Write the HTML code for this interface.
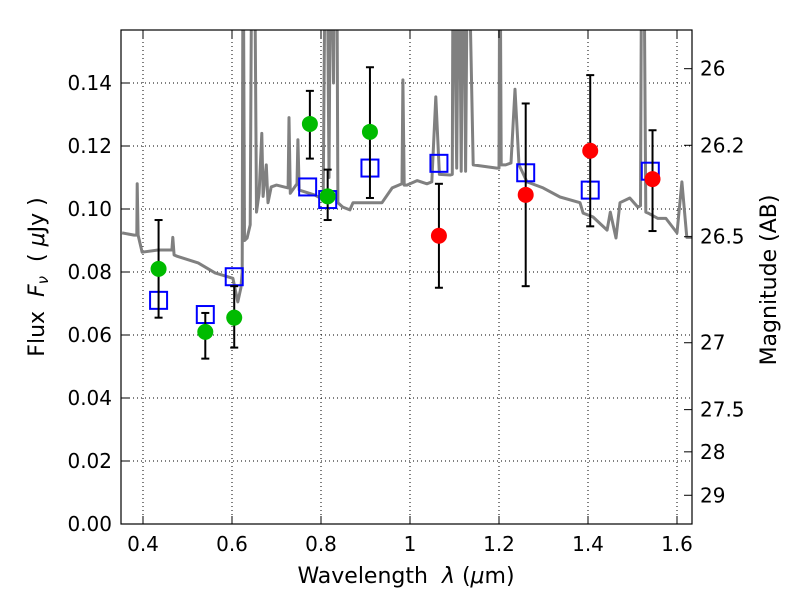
<!DOCTYPE html>
<html><head><meta charset="utf-8"><style>
body{margin:0;background:#fff;font-family:"Liberation Sans","DejaVu Sans",sans-serif}
svg text{font-family:"DejaVu Sans","Liberation Sans",sans-serif;font-size:20px;fill:#000}
svg text.title{font-size:22px}
</style></head><body>
<svg id="chart" width="800" height="600">
<defs><clipPath id="clip"><rect x="121" y="30" width="571" height="494"/></clipPath></defs>
<rect x="0" y="0" width="800" height="600" fill="#fff"/>
<g id="grid"></g>
<g id="spec" clip-path="url(#clip)"></g>
<g id="marks" clip-path="url(#clip)"></g>
<rect x="121" y="30" width="571" height="494" fill="none" stroke="#000" stroke-width="1.2"/>
<g id="axes"></g>
<text class="title" x="406" y="583" text-anchor="middle" xml:space="preserve">Wavelength  <tspan font-style="italic">λ</tspan> (<tspan font-style="italic">μ</tspan>m)</text>
<text class="title" transform="translate(44,277) rotate(-90)" text-anchor="middle" xml:space="preserve">Flux  <tspan font-style="italic">F<tspan font-size="15" dy="4">ν</tspan></tspan><tspan dy="-4">  ( <tspan font-style="italic">μ</tspan>Jy )</tspan></text>
<text class="title" transform="translate(776,280) rotate(-90)" text-anchor="middle">Magnitude (AB)</text>
</svg>
<script>
const xTicks=[0.4,0.6,0.8,1.0,1.2,1.4,1.6];
const xTickLabels=["0.4","0.6","0.8","1","1.2","1.4","1.6"];
const yTicks=[0,0.02,0.04,0.06,0.08,0.10,0.12,0.14];
const yTickLabels=["0.00","0.02","0.04","0.06","0.08","0.10","0.12","0.14"];
const magTicks=[26,26.2,26.5,27,27.5,28,29];
const magTickLabels=["26","26.2","26.5","27","27.5","28","29"];
const specWave=[0.353,0.38,0.386,0.387,0.389,0.398,0.434,0.465,0.467,0.470,0.477,0.524,0.562,0.602,0.613,0.620,0.623,0.625,0.628,0.634,0.641,0.645,0.650,0.655,0.661,0.667,0.670,0.677,0.681,0.688,0.70,0.726,0.728,0.731,0.746,0.748,0.751,0.786,0.805,0.810,0.813,0.818,0.822,0.828,0.831,0.835,0.838,0.849,0.865,0.872,0.937,0.96,0.982,0.984,0.987,0.993,1.016,1.038,1.049,1.058,1.066,1.09,1.095,1.097,1.105,1.11,1.115,1.12,1.125,1.13,1.142,1.195,1.200,1.202,1.205,1.215,1.227,1.236,1.245,1.263,1.299,1.337,1.382,1.389,1.411,1.443,1.450,1.463,1.472,1.494,1.512,1.518,1.521,1.525,1.530,1.535,1.557,1.575,1.60,1.611,1.622,1.64];
const specFlux=[0.0924,0.0917,0.0917,0.108,0.0917,0.0863,0.087,0.087,0.091,0.0854,0.085,0.0829,0.0797,0.078,0.0705,0.075,0.08,0.2,0.09,0.0908,0.095,0.2,0.2,0.099,0.105,0.124,0.104,0.114,0.102,0.107,0.1076,0.1067,0.129,0.105,0.108,0.122,0.106,0.1044,0.103,0.2,0.2,0.11,0.2,0.14,0.2,0.2,0.102,0.1006,0.0997,0.102,0.102,0.1067,0.108,0.141,0.1076,0.1076,0.109,0.108,0.1086,0.1356,0.111,0.1108,0.111,0.2,0.113,0.2,0.112,0.2,0.112,0.2,0.114,0.113,0.113,0.2,0.114,0.114,0.1146,0.138,0.114,0.1086,0.1067,0.1038,0.102,0.0987,0.0975,0.0933,0.099,0.0908,0.102,0.1035,0.1006,0.101,0.2,0.2,0.099,0.0987,0.097,0.097,0.0924,0.1086,0.091,0.091];
const greenWave=[0.435,0.54,0.605,0.775,0.815,0.91];
const greenFlux=[0.081,0.061,0.0655,0.127,0.104,0.1245];
const greenLow=[0.0655,0.0525,0.056,0.116,0.0965,0.1035];
const greenHigh=[0.0965,0.067,0.0755,0.1375,0.1125,0.145];
const redWave=[1.065,1.26,1.405,1.545];
const redFlux=[0.0915,0.1045,0.1185,0.1095];
const redLow=[0.075,0.0755,0.0945,0.093];
const redHigh=[0.108,0.1335,0.1425,0.125];
const modelWave=[0.435,0.54,0.605,0.77,0.815,0.91,1.065,1.26,1.405,1.54];
const modelFlux=[0.071,0.0665,0.0785,0.107,0.103,0.113,0.1145,0.1115,0.106,0.112];

const X=w=>143+(w-0.4)*445;
const Y=f=>524-f*3150;
const MY=m=>Y(Math.pow(10,(23.9-m)/2.5));
const NS="http://www.w3.org/2000/svg";
function mk(parent,tag,attrs){const e=document.createElementNS(NS,tag);for(const k in attrs)e.setAttribute(k,attrs[k]);document.getElementById(parent).appendChild(e);return e;}

xTicks.forEach((t,i)=>{const x=X(t);
 let g=mk('grid','line',{x1:x,x2:x,y1:30,y2:524,stroke:'#000','stroke-width':1,'stroke-dasharray':'1,3'});
 
 
 let a=mk('axes','line',{x1:x,x2:x,y1:524,y2:516,stroke:'#000'});
 
 
 let b=mk('axes','line',{x1:x,x2:x,y1:30,y2:38,stroke:'#000'});
 
 
 let tx=mk('axes','text',{x:x,y:551,'text-anchor':'middle'});tx.textContent=xTickLabels[i];
 
 
});
yTicks.forEach((t,i)=>{const y=Y(t);
 let g=mk('grid','line',{x1:121,x2:692,y1:y,y2:y,stroke:'#000','stroke-width':1,'stroke-dasharray':'1,3'});
 
 
 let a=mk('axes','line',{x1:121,x2:129,y1:y,y2:y,stroke:'#000'});
 
 
 let tx=mk('axes','text',{x:112,y:y+7,'text-anchor':'end'});tx.textContent=yTickLabels[i];
 
 
});
magTicks.forEach((m,i)=>{const y=MY(m);
 let a=mk('axes','line',{x1:684,x2:692,y1:y,y2:y,stroke:'#000'});
 
 
 let tx=mk('axes','text',{x:700,y:y+7,'text-anchor':'start'});tx.textContent=magTickLabels[i];
 
 
});
let d=specWave.map((w,i)=>(i?'L':'M')+X(w).toFixed(1)+','+Y(specFlux[i]).toFixed(1)).join('');
let sp=mk('spec','path',{d:d,fill:'none',stroke:'#808080','stroke-width':3,'stroke-linejoin':'round'});



function errbar(w,lo,hi){const x=X(w);
 let l=mk('marks','line',{x1:x,x2:x,y1:Y(lo),y2:Y(hi),stroke:'#000','stroke-width':2});
 
 
 [lo,hi].forEach(v=>{let c=mk('marks','line',{x1:x-4,x2:x+4,y1:Y(v),y2:Y(v),stroke:'#000','stroke-width':2});
  
  });
}
modelWave.forEach((w,i)=>{
 let r=mk('marks','rect',{x:X(w)-8.5,y:Y(modelFlux[i])-8.5,width:17,height:17,fill:'none',stroke:'#0000ff','stroke-width':2});
 
 
});
greenWave.forEach((w,i)=>{errbar(w,greenLow[i],greenHigh[i]);
 let c=mk('marks','circle',{cx:X(w),cy:Y(greenFlux[i]),r:8,fill:'#00bb00'});
 
 
});
redWave.forEach((w,i)=>{errbar(w,redLow[i],redHigh[i]);
 let c=mk('marks','circle',{cx:X(w),cy:Y(redFlux[i]),r:8,fill:'#ff0000'});
 
 
});
</script>
</body></html>
